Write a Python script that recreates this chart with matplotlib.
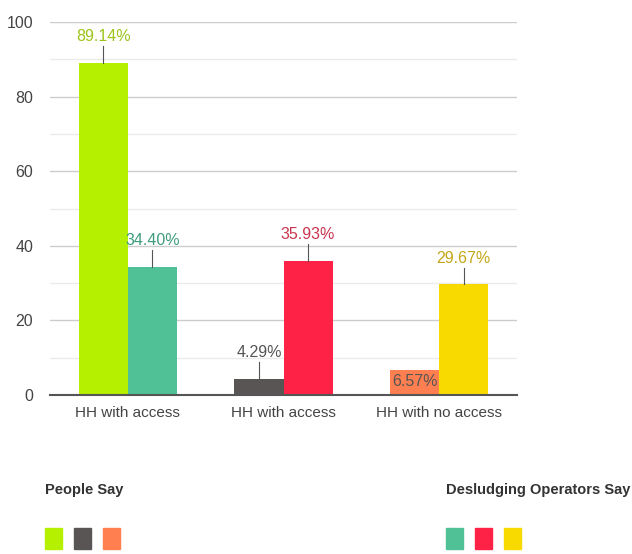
import matplotlib.pyplot as plt
import matplotlib.patches as mpatches
import numpy as np

categories = ['HH with access', 'HH with access', 'HH with no access']
people_say = [89.14, 4.29, 6.57]
operators_say = [34.40, 35.93, 29.67]

people_colors = ['#b5f000', '#5a5555', '#ff7f50']
operator_colors = ['#50c096', '#ff2247', '#f8da00']
people_label_colors = ['#9cc41a', '#555555', '#555555']
operator_label_colors = ['#3f9b7c', '#c9344f', '#c4a616']
# the 6.57% label sits inside its bar
people_inside = [False, False, True]
operators_inside = [False, False, False]

plt.rcParams['font.family'] = ['Liberation Sans', 'DejaVu Sans']

fig = plt.figure(figsize=(6.32, 5.54), dpi=100)
ax = fig.add_axes([50 / 632, 1 - 395 / 554, 467 / 632, 373 / 554])

x = np.arange(len(categories))
w = 0.315
ax.bar(x - w / 2, people_say, w, color=people_colors, zorder=3)
ax.bar(x + w / 2, operators_say, w, color=operator_colors, zorder=3)

ax.set_xlim(-0.5, 2.5)
ax.set_ylim(0, 100)
ax.set_yticks(range(0, 101, 20))
ax.set_yticks(range(10, 100, 20), minor=True)
ax.grid(axis='y', which='major', color='#cccccc', linewidth=1, zorder=0)
ax.grid(axis='y', which='minor', color='#ebebeb', linewidth=1, zorder=0)
for s in ['top', 'right', 'left']:
    ax.spines[s].set_visible(False)
ax.spines['bottom'].set_color('#555555')
ax.spines['bottom'].set_linewidth(1.5)
ax.spines['bottom'].set_zorder(4)
ax.tick_params(axis='both', which='both', length=0)
ax.tick_params(axis='y', labelsize=11.5, labelcolor='#444444', pad=12)
ax.set_xticks(x)
ax.set_xticklabels(categories, fontsize=11, color='#444444')
ax.tick_params(axis='x', pad=8)


def label_bars(xs, vals, cols, inside):
    for xi, v, c, ins in zip(xs, vals, cols, inside):
        if ins:
            ax.text(xi, v / 2 + 0.3, f'{v:.2f}%', ha='center', va='center',
                    fontsize=11.5, color=c, zorder=5)
        else:
            ax.plot([xi, xi], [v, v + 4.5], color='#555555', lw=0.8, zorder=4)
            ax.text(xi, v + 5, f'{v:.2f}%', ha='center', va='bottom',
                    fontsize=11.5, color=c, zorder=5)


label_bars(x - w / 2, people_say, people_label_colors, people_inside)
label_bars(x + w / 2, operators_say, operator_label_colors, operators_inside)

# legends at the bottom
fig.text(45 / 632, 1 - 490 / 554, 'People Say', fontsize=10.5, fontweight='bold',
         color='#333333', va='center', ha='left')
fig.text(446 / 632, 1 - 490 / 554, 'Desludging Operators Say', fontsize=10.5,
         fontweight='bold', color='#333333', va='center', ha='left')
for i, c in enumerate(people_colors):
    fig.add_artist(mpatches.Rectangle(((45 + 29 * i) / 632, 1 - 549 / 554), 17 / 632, 21 / 554,
                                      transform=fig.transFigure, color=c))
for i, c in enumerate(operator_colors):
    fig.add_artist(mpatches.Rectangle(((446 + 29 * i) / 632, 1 - 549 / 554), 17 / 632, 21 / 554,
                                      transform=fig.transFigure, color=c))

fig.savefig('out.png', dpi=100)
